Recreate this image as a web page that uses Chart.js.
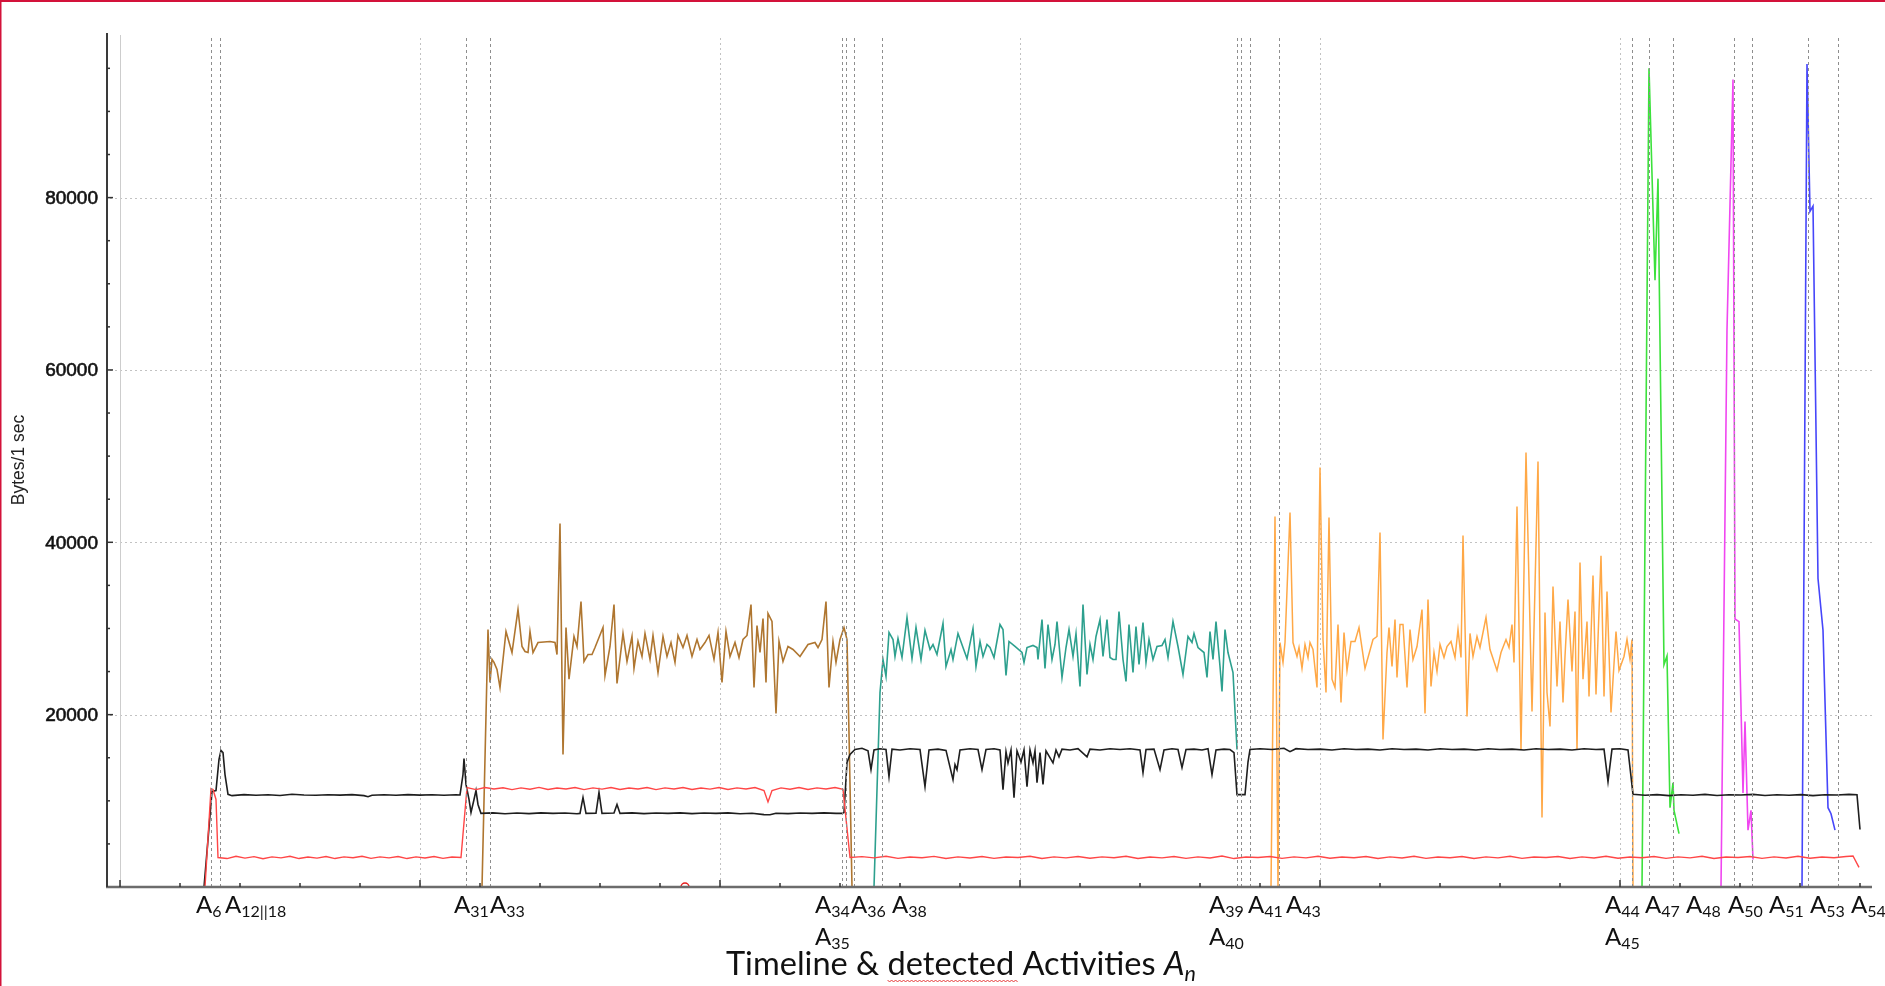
<!DOCTYPE html>
<html lang="en">
<head>
<meta charset="UTF-8">
<title>Timeline &amp; detected Activities</title>
<style>
  html, body { margin: 0; padding: 0; background: #fff; }
  #wrap { width: 1885px; height: 986px; position: relative; }
</style>
</head>
<body>
<div id="wrap"><canvas id="timeline"></canvas></div>

<script src="https://cdn.jsdelivr.net/npm/chart.js"></script>
<script>
    // time axis in seconds, values in Bytes/1 sec
    const xMin = -13, xMax = 1752;
    const yMin = 0, yMax = 99100;

    const xGridTimes = [0, 300, 600, 900, 1200, 1500];
    const xMinorStep = 60, xMinorLast = 1740;
    const yGridValues = [20000, 40000, 60000, 80000];
    const yTickLabels = ['20000', '40000', '60000', '80000'];
    const yMinorStep = 5000, yMinorLast = 95000;

    // dashed markers where an activity was detected
    const activityTimes = [91, 100, 346, 370, 722, 726, 734, 762, 1117, 1121, 1130, 1159,
                           1512, 1529, 1553, 1614, 1632, 1688, 1718];

    // activity labels A_n: subscript, anchor time, row under the axis
    const labelSubs = ['6', '12||18', '31', '33', '34', '35', '36', '38', '39', '40', '41', '43',
                       '44', '45', '47', '48', '50', '51', '53', '54'];
    const labelTimes = [76, 105, 334, 370, 695, 695, 731, 772, 1089, 1089, 1128, 1166,
                        1485, 1485, 1525, 1566, 1608, 1649, 1690, 1731];
    const labelRows = [0, 0, 0, 0, 0, 1, 0, 0, 0, 1, 0, 0, 0, 1, 0, 0, 0, 0, 0, 0];

    // black trace
    const blackSeries = [
        [84, 0], [88, 5500], [92, 11100], [96, 11200], [99, 14800], [101, 15850], [103, 15600], [105, 13050], [108, 10750],
        [112, 10600], [124, 10720], [136, 10650], [148, 10700], [160, 10620], [172, 10760], [184, 10680], [196, 10640],
        [208, 10700], [220, 10660], [232, 10720], [244, 10600], [248, 10480], [252, 10650], [264, 10700], [276, 10640],
        [288, 10720], [300, 10660], [312, 10700], [324, 10640], [336, 10700], [340, 10680],
        [343, 13050], [344, 14900], [346, 11900], [349, 10160], [351, 8650], [354, 10160], [356, 11200], [358, 9580], [361, 8540],
        [373, 8600], [385, 8500], [397, 8580], [409, 8520], [421, 8600], [433, 8540], [445, 8580], [457, 8500], [460, 8540],
        [463, 10390], [466, 8540], [476, 8560], [479, 10970], [482, 8540], [494, 8580], [497, 9580], [500, 8540],
        [512, 8600], [524, 8520], [536, 8580], [548, 8540], [560, 8600], [572, 8520], [584, 8580], [596, 8540],
        [608, 8600], [620, 8500], [632, 8560], [644, 8400], [650, 8380], [656, 8560], [668, 8520], [680, 8580],
        [692, 8540], [704, 8600], [716, 8540], [722, 8540],
        [724, 8650], [727, 14450], [730, 15380], [735, 15960],
        [742, 16100], [748, 15800], [751, 13620], [754, 15900], [760, 16050], [766, 15950], [769, 12810], [772, 16000],
        [780, 15900], [790, 16050], [800, 15950], [805, 11650], [809, 15900], [818, 16000], [826, 15850], [833, 12460],
        [835, 14200], [837, 13620], [840, 15900], [850, 16050], [858, 15950], [862, 13620], [866, 15950], [874, 16050],
        [880, 15900], [883, 11300], [886, 15700], [888, 14400], [891, 15900], [894, 10370], [897, 15800], [901, 14500],
        [904, 15900], [907, 11650], [910, 15900], [913, 14400], [915, 15800], [917, 12100], [920, 15600], [923, 11900],
        [926, 15800], [933, 14400], [936, 15900], [939, 15100], [942, 16000], [950, 15900], [958, 16050], [967, 15100],
        [970, 16000], [980, 15900], [990, 16050], [1000, 15950], [1010, 16050], [1020, 15900], [1023, 13270], [1026, 15950],
        [1034, 16000], [1040, 13620], [1044, 15900], [1052, 16050], [1058, 15950], [1062, 13850], [1066, 15950], [1074, 16000],
        [1082, 15900], [1088, 16050], [1092, 13040], [1096, 15900], [1104, 16000], [1110, 15950], [1114, 15600], [1117, 10720],
        [1125, 10720], [1128, 14500], [1130, 15960],
        [1140, 16050], [1152, 15950], [1164, 16100], [1170, 15700], [1176, 16050], [1188, 15950], [1200, 16000], [1212, 15900],
        [1224, 16050], [1236, 15950], [1248, 16000], [1260, 15900], [1272, 16050], [1284, 15950], [1296, 16000], [1308, 15900],
        [1320, 16050], [1332, 15950], [1344, 16000], [1356, 15900], [1368, 16050], [1380, 15950], [1392, 16000], [1404, 15900],
        [1416, 16050], [1428, 15950], [1440, 16000], [1452, 15900], [1464, 16050], [1476, 15950], [1484, 16000], [1488, 12230],
        [1492, 16000], [1500, 16050], [1508, 15900], [1513, 10750],
        [1525, 10650], [1537, 10720], [1549, 10600], [1561, 10700], [1573, 10650], [1585, 10750], [1597, 10620], [1609, 10700],
        [1621, 10680], [1633, 10750], [1645, 10620], [1657, 10700], [1669, 10650], [1681, 10720], [1693, 10600], [1705, 10700],
        [1717, 10680], [1729, 10750], [1737, 10700], [1740, 6670]
    ];

    // red trace
    const redSeries = [
        [85, 0], [91, 11430], [93, 11320], [96, 10160], [98, 3420],
        [107, 3300], [116, 3560], [125, 3350], [134, 3520], [143, 3280], [152, 3500], [161, 3380], [170, 3560], [179, 3300],
        [188, 3480], [197, 3350], [206, 3540], [215, 3300], [224, 3500], [233, 3400], [242, 3560], [251, 3320], [260, 3500],
        [269, 3380], [278, 3540], [287, 3300], [296, 3500], [305, 3360], [314, 3540], [323, 3320], [332, 3480], [341, 3420],
        [347, 11540], [356, 11300], [365, 11550], [374, 11380], [383, 11520], [392, 11300], [401, 11500], [410, 11350],
        [419, 11560], [428, 11320], [437, 11480], [446, 11380], [455, 11540], [464, 11300], [473, 11500], [482, 11360],
        [491, 11540], [500, 11320], [509, 11480], [518, 11380], [527, 11550], [536, 11300], [545, 11500], [554, 11380],
        [563, 11540], [572, 11320], [581, 11480], [590, 11360], [599, 11540], [608, 11320], [617, 11500], [626, 11380],
        [635, 11540], [644, 11200], [648, 9870], [652, 11200], [661, 11500], [670, 11340], [679, 11540], [688, 11320],
        [697, 11500], [706, 11380], [715, 11540], [723, 11330], [730, 3420],
        [742, 3520], [754, 3380], [766, 3560], [778, 3320], [790, 3480], [802, 3400], [814, 3550], [826, 3300], [838, 3500],
        [850, 3360], [862, 3540], [874, 3320], [886, 3480], [898, 3420], [910, 3560], [922, 3300], [934, 3500], [946, 3380],
        [958, 3540], [970, 3340], [982, 3500], [994, 3400], [1006, 3560], [1018, 3300], [1030, 3480], [1042, 3380], [1054, 3540],
        [1066, 3320], [1078, 3500], [1090, 3360], [1102, 3600], [1114, 3300], [1126, 3480], [1138, 3420], [1150, 3540],
        [1162, 3320], [1174, 3500], [1186, 3380], [1198, 3560], [1210, 3340], [1222, 3480], [1234, 3400], [1246, 3540],
        [1258, 3300], [1270, 3500], [1282, 3360], [1294, 3560], [1306, 3320], [1318, 3480], [1330, 3400], [1342, 3540],
        [1354, 3300], [1366, 3500], [1378, 3380], [1390, 3560], [1402, 3320], [1414, 3480], [1426, 3420], [1438, 3540],
        [1450, 3300], [1462, 3500], [1474, 3360], [1486, 3560], [1498, 3340], [1510, 3480], [1522, 3400], [1534, 3540],
        [1546, 3320], [1558, 3500], [1570, 3380], [1582, 3560], [1594, 3300], [1606, 3480], [1618, 3420], [1630, 3540],
        [1642, 3320], [1654, 3500], [1666, 3360], [1678, 3560], [1690, 3340], [1702, 3480], [1714, 3400], [1726, 3540],
        [1733, 3600], [1739, 2270]
    ];

    const brownSeries = [
        [362, 0], [368, 29880], [370, 23740], [372, 26420], [374, 26070], [377, 25240], [380, 23150], [386, 29650],
        [392, 27210], [398, 32200], [402, 27910], [405, 27330], [408, 27210], [410, 29650], [413, 27210], [418, 28370],
        [430, 28490], [435, 28370], [437, 26980], [440, 42180], [443, 15380], [446, 30110], [449, 24120], [454, 29070],
        [457, 27910], [461, 33130], [464, 26170], [468, 26980], [472, 26980], [475, 27790], [483, 30110], [485, 24550],
        [490, 27910], [494, 32780], [497, 23620], [503, 29420], [507, 26170], [512, 29070], [514, 25360], [518, 28490],
        [522, 26750], [525, 29420], [530, 26420], [533, 29190], [538, 24890], [543, 29070], [547, 26750], [551, 28370],
        [555, 26070], [558, 29190], [563, 27790], [567, 29190], [572, 26750], [577, 28720], [580, 27560], [585, 28370],
        [589, 29190], [594, 26420], [598, 29530], [602, 23740], [606, 29650], [610, 26750], [615, 28370], [619, 26630],
        [623, 28720], [627, 29190], [631, 32780], [634, 23150], [637, 30340], [640, 27210], [643, 31160], [646, 23740],
        [648, 31740], [652, 30810], [656, 20140], [659, 28490], [663, 26170], [668, 27910], [673, 27560], [680, 26750],
        [688, 28140], [695, 28370], [698, 27790], [702, 28720], [706, 33130], [709, 23150], [713, 28490], [716, 26070],
        [720, 28720], [724, 30110], [727, 28720], [729, 17820], [732, 0]
    ];

    const tealSeries = [
        [754, 0], [760, 22570], [763, 26400], [766, 24430], [769, 29540], [773, 28720], [775, 26750], [778, 28840],
        [782, 26630], [787, 31270], [792, 26510], [796, 30110], [801, 26400], [805, 29770], [810, 27560], [813, 28140],
        [817, 26980], [823, 30580], [826, 25590], [831, 27560], [833, 26400], [838, 29420], [843, 27790], [847, 26510],
        [853, 30000], [856, 25590], [860, 28490], [863, 26750], [867, 28140], [870, 27790], [874, 26630], [880, 30460],
        [883, 29880], [886, 24550], [889, 28490], [895, 27910], [902, 27210], [904, 26050], [907, 27790], [913, 28030],
        [917, 27790], [918, 26400], [922, 31040], [925, 25360], [928, 30460], [932, 26400], [935, 28140], [937, 30810],
        [942, 24310], [946, 27790], [949, 29880], [953, 26750], [956, 29420], [960, 23270], [963, 32780], [967, 24660],
        [970, 28140], [973, 26400], [976, 29070], [980, 31040], [983, 26750], [987, 31040], [990, 26630], [993, 26400],
        [996, 26400], [999, 31970], [1003, 26400], [1006, 23850], [1009, 30460], [1013, 24890], [1016, 30230], [1019, 25820],
        [1023, 30690], [1026, 26050], [1029, 28720], [1033, 26400], [1037, 27910], [1042, 28030], [1045, 28720], [1048, 26630],
        [1053, 30810], [1058, 27910], [1063, 24660], [1068, 29070], [1072, 28370], [1074, 29420], [1078, 27790], [1084, 27210],
        [1087, 24310], [1090, 29650], [1093, 26400], [1096, 30810], [1100, 25590], [1102, 22690], [1105, 29880], [1108, 27210],
        [1113, 24890], [1117, 15960]
    ];

    const orangeSeries = [
        [1151, 0], [1155, 43000], [1158, 0], [1160, 28370], [1163, 26050], [1165, 28370], [1170, 43450], [1173, 28370],
        [1177, 26750], [1179, 27790], [1182, 25360], [1185, 28140], [1188, 26630], [1190, 28370], [1193, 27560], [1197, 23150],
        [1200, 48670], [1203, 28720], [1206, 22570], [1209, 42870], [1212, 24120], [1215, 23150], [1218, 30460], [1221, 21420],
        [1224, 29540], [1227, 25130], [1231, 28490], [1235, 28490], [1239, 30110], [1245, 25360], [1253, 28720], [1257, 29070],
        [1260, 41130], [1263, 17120], [1267, 27210], [1269, 30110], [1272, 25590], [1275, 31040], [1277, 24310], [1280, 30460],
        [1283, 30460], [1287, 23150], [1290, 29880], [1293, 26400], [1297, 27910], [1302, 32200], [1305, 20140], [1308, 33360],
        [1311, 23270], [1314, 27210], [1317, 25010], [1320, 28140], [1324, 26630], [1327, 27910], [1331, 28490], [1335, 26630],
        [1338, 29880], [1341, 26630], [1343, 40790], [1347, 19790], [1350, 29420], [1353, 26750], [1357, 29070], [1360, 27790],
        [1366, 31270], [1370, 27560], [1377, 25130], [1381, 27210], [1386, 28720], [1389, 27790], [1392, 30460], [1394, 26050],
        [1397, 44150], [1401, 15960], [1406, 50410], [1412, 20370], [1418, 49370], [1422, 8070], [1425, 31850], [1427, 22570],
        [1430, 18630], [1433, 34870], [1437, 23270], [1440, 30810], [1443, 21420], [1445, 26750], [1448, 33360], [1452, 25010],
        [1455, 31970], [1457, 15960], [1460, 37650], [1463, 24120], [1467, 30810], [1469, 22110], [1473, 36150], [1476, 22340],
        [1481, 38450], [1484, 22110], [1487, 34290], [1491, 20250], [1496, 29650], [1499, 25130], [1504, 26750], [1507, 28720],
        [1510, 26400], [1512, 28720], [1513, 0]
    ];

    const greenSeries = [[1522, 0], [1529, 95000], [1535, 70400], [1538, 82200], [1544, 25800], [1547, 26800],
                         [1550, 9200], [1553, 12100], [1554, 8900], [1559, 6200]];
    const magentaSeries = [[1601, 0], [1607, 64700], [1613, 93700], [1615, 31100], [1619, 30800], [1623, 10900],
                           [1625, 19200], [1628, 6600], [1631, 8900], [1633, 3200]];
    const blueSeries = [[1682, 0], [1687, 95500], [1690, 78400], [1693, 79000], [1698, 35800], [1703, 29800],
                        [1708, 9200], [1711, 8500], [1715, 6600]];
    const markerPoint = [[565, 0]];

    function toXY(pairs) {
        return pairs.map(p => ({x: p[0], y: p[1]}));
    }

    function lineSet(pairs, color, width) {
        return {
            data: toXY(pairs),
            borderColor: color,
            borderWidth: width,
            pointRadius: 0,
            tension: 0,
            fill: false
        };
    }

    function strokeLine(ctx, x1, y1, x2, y2) {
        ctx.beginPath();
        ctx.moveTo(x1, y1);
        ctx.lineTo(x2, y2);
        ctx.stroke();
    }

    // grid, axes, activity markers and all the text
    const decor = {
        id: 'decor',
        beforeDatasetsDraw(chart) {
            const {ctx, chartArea: a, scales: {x, y}} = chart;
            ctx.save();
            ctx.lineWidth = 1;
            ctx.strokeStyle = '#c2c2c2';
            ctx.setLineDash([2, 3]);
            yGridValues.forEach(v => {
                const py = Math.round(y.getPixelForValue(v)) + 0.5;
                strokeLine(ctx, a.left + 3, py, a.right, py);
            });
            xGridTimes.forEach((t, i) => {
                const px = Math.round(x.getPixelForValue(t)) + 0.5;
                if (i === 0) {
                    ctx.save();
                    ctx.setLineDash([]);
                    ctx.strokeStyle = '#cdcdcd';
                    strokeLine(ctx, px, a.top + 2, px, a.bottom);
                    ctx.restore();
                } else {
                    strokeLine(ctx, px, a.top + 5, px, a.bottom);
                }
            });
            ctx.restore();
        },
        afterDatasetsDraw(chart) {
            const {ctx, chartArea: a, scales: {x, y}} = chart;
            ctx.save();

            // activity markers
            ctx.strokeStyle = '#8e8e8e';
            ctx.lineWidth = 1;
            ctx.setLineDash([3, 3]);
            activityTimes.forEach(t => {
                const px = Math.round(x.getPixelForValue(t)) + 0.5;
                strokeLine(ctx, px, a.top + 5, px, a.bottom);
            });
            ctx.setLineDash([]);

            // axes
            ctx.strokeStyle = '#6c6c6c';
            ctx.lineWidth = 2.5;
            strokeLine(ctx, a.left - 1, a.bottom, a.right, a.bottom);
            ctx.strokeStyle = '#3a3a3a';
            ctx.lineWidth = 2;
            strokeLine(ctx, a.left, a.top, a.left, a.bottom);

            // tick marks
            ctx.strokeStyle = '#333';
            ctx.lineWidth = 1.5;
            for (let v = yMinorStep; v <= yMinorLast; v += yMinorStep) {
                const py = y.getPixelForValue(v);
                const len = yGridValues.includes(v) ? 6 : 3;
                strokeLine(ctx, a.left, py, a.left + len, py);
            }
            for (let t = 0; t <= xMinorLast; t += xMinorStep) {
                const px = x.getPixelForValue(t);
                const len = xGridTimes.includes(t) ? 7 : 4;
                strokeLine(ctx, px, a.bottom, px, a.bottom - len);
            }

            // y tick labels (slightly heavy, like the original export)
            ctx.fillStyle = '#111';
            ctx.strokeStyle = '#111';
            ctx.lineWidth = 0.6;
            ctx.font = '19px "Liberation Sans", Arial, sans-serif';
            ctx.textAlign = 'right';
            ctx.textBaseline = 'middle';
            yGridValues.forEach((v, i) => {
                const py = y.getPixelForValue(v) + 1;
                ctx.fillText(yTickLabels[i], a.left - 9, py);
                ctx.strokeText(yTickLabels[i], a.left - 9, py);
            });

            // y title
            ctx.save();
            ctx.translate(19, (a.top + a.bottom) / 2);
            ctx.rotate(-Math.PI / 2);
            ctx.textAlign = 'center';
            ctx.font = '17.5px "Liberation Sans", Arial, sans-serif';
            ctx.fillStyle = '#222';
            ctx.fillText('Bytes/1 sec', 0, 0);
            ctx.restore();

            // activity labels
            ctx.textAlign = 'left';
            ctx.textBaseline = 'alphabetic';
            ctx.fillStyle = '#111';
            labelSubs.forEach((s, i) => {
                const px = x.getPixelForValue(labelTimes[i]);
                const base = labelRows[i] === 0 ? 913 : 945;
                ctx.font = '24px Lato, sans-serif';
                ctx.fillText('A', px, base);
                const w = ctx.measureText('A').width;
                ctx.font = '16px Lato, sans-serif';
                ctx.fillText(s, px + w, base + 4);
            });

            // title
            const main = 'Timeline & detected Activities ';
            ctx.font = '29px Lato, sans-serif';
            let fs = 29 * 438 / ctx.measureText(main).width;
            ctx.font = fs + 'px Lato, sans-serif';
            const tx = 726, ty = 975;
            ctx.fillText(main, tx, ty);
            const wMain = ctx.measureText(main).width;
            const wBefore = ctx.measureText('Timeline & ').width;
            const wWord = ctx.measureText('detected').width;
            ctx.font = 'italic ' + fs + 'px Lato, sans-serif';
            ctx.fillText('A', tx + wMain, ty);
            const wA = ctx.measureText('A').width;
            ctx.font = 'italic ' + (fs * 0.66) + 'px Lato, sans-serif';
            ctx.fillText('n', tx + wMain + wA, ty + 6);

            // spell-check squiggle under "detected"
            ctx.strokeStyle = '#e53838';
            ctx.lineWidth = 1;
            ctx.beginPath();
            let up = true;
            for (let sx = tx + wBefore; sx <= tx + wBefore + wWord + 4; sx += 2) {
                const sy = ty + 5 + (up ? 0 : 2);
                if (sx === tx + wBefore) ctx.moveTo(sx, sy); else ctx.lineTo(sx, sy);
                up = !up;
            }
            ctx.stroke();

            // frame
            ctx.fillStyle = '#d3123a';
            ctx.fillRect(0, 0, chart.width, 2);
            ctx.fillRect(0, 0, 1.5, chart.height);
            ctx.restore();
        }
    };

    const timelineChart = new Chart(document.getElementById('timeline'), {
        type: 'line',
        data: {
            datasets: [
                lineSet(redSeries, 'rgb(255,70,70)', 1.4),
                lineSet(blackSeries, 'rgb(30,30,30)', 1.6),
                lineSet(brownSeries, 'rgb(175,118,48)', 1.6),
                lineSet(tealSeries, 'rgb(45,160,142)', 1.6),
                lineSet(orangeSeries, 'rgb(255,168,70)', 1.5),
                lineSet(greenSeries, 'rgb(60,225,60)', 1.6),
                lineSet(magentaSeries, 'rgb(240,70,240)', 1.6),
                lineSet(blueSeries, 'rgb(70,70,250)', 1.6),
                {
                    data: toXY(markerPoint),
                    showLine: false,
                    pointRadius: 4,
                    pointBorderWidth: 1.5,
                    pointBorderColor: 'rgb(230,30,30)',
                    pointBackgroundColor: 'rgba(0,0,0,0)'
                }
            ]
        },
        options: {
            responsive: true,
            maintainAspectRatio: false,
            devicePixelRatio: 1,
            animation: false,
            layout: {padding: {left: 107, top: 33, right: 13, bottom: 99}},
            plugins: {legend: {display: false}, tooltip: {enabled: false}},
            scales: {
                x: {type: 'linear', display: false, min: xMin, max: xMax},
                y: {type: 'linear', display: false, min: yMin, max: yMax}
            }
        },
        plugins: [decor]
    });
</script>
</body>
</html>
